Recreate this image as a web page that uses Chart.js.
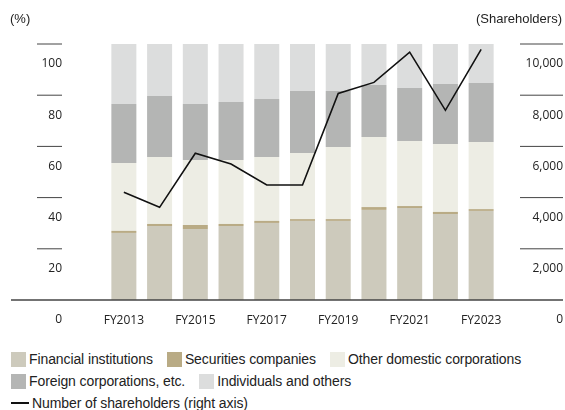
<!DOCTYPE html>
<html>
<head>
<meta charset="utf-8">
<script src="https://cdn.jsdelivr.net/npm/chart.js@4.4.1/dist/chart.umd.min.js"></script>
<style>
  body { margin: 0; background: #fff; }
  #wrap { position: relative; width: 565px; height: 410px; font-family: "Liberation Sans", Arial, sans-serif; color: #222; }
  #chart { position: absolute; left: 0; top: 0; }
  .unit { position: absolute; top: 11px; font-size: 13px; }
  #legend { position: absolute; left: 11px; top: 348px; font-size: 14px; letter-spacing: -0.1px; }
  .row { display: flex; align-items: center; height: 22px; }
  .item { display: flex; align-items: center; margin-right: 14px; }
  .box { width: 15px; height: 15px; margin-right: 3px; }
  .dash { width: 18px; height: 2.5px; background: #111; margin-right: 3px; }
</style>
</head>
<body>
<div id="wrap">
  <canvas id="chart" width="565" height="340"></canvas>
  <div class="unit" style="left:10px">(%)</div>
  <div class="unit" style="right:3px">(Shareholders)</div>
  <div id="legend"></div>
</div>
<script>
const years = ['FY2013', 'FY2014', 'FY2015', 'FY2016', 'FY2017', 'FY2018', 'FY2019', 'FY2020', 'FY2021', 'FY2022', 'FY2023']

// ownership breakdown, % of shares
const financial = [26.2, 28.9, 27.7, 28.9, 30.1, 30.9, 30.9, 35.2, 35.9, 33.6, 34.8]
const securities = [0.8, 0.8, 1.6, 0.8, 0.8, 0.7, 0.7, 1.1, 0.8, 0.8, 0.7]
const otherDomestic = [26.5, 26.2, 25.4, 25.0, 25.0, 25.8, 28.2, 27.4, 25.4, 26.5, 26.2]
const foreign = [23.1, 23.8, 21.9, 22.6, 22.6, 24.2, 21.8, 20.3, 20.7, 23.5, 23.1]
const individuals = [23.4, 20.3, 23.4, 22.7, 21.5, 18.4, 18.4, 16.0, 17.2, 15.6, 15.2]

// number of shareholders (right axis)
const shareholders = [4210, 3620, 5730, 5310, 4490, 4490, 8070, 8500, 9680, 7410, 9790]

const leftTicks = [0, 20, 40, 60, 80, 100]
const rightTicks = [0, 2000, 4000, 6000, 8000, 10000]

const barSeries = [
  { label: 'Financial institutions', data: financial, color: '#cdcabc' },
  { label: 'Securities companies', data: securities, color: '#b9ab85' },
  { label: 'Other domestic corporations', data: otherDomestic, color: '#edede4' },
  { label: 'Foreign corporations, etc.', data: foreign, color: '#b4b5b4' },
  { label: 'Individuals and others', data: individuals, color: '#dcdddd' },
]
const lineLabel = 'Number of shareholders (right axis)'

const tickFont = { family: '"Open Sans", sans-serif', size: 12 }

// short marks beside the tick labels plus the long baseline
const axisMarks = {
  id: 'axisMarks',
  afterDraw(chart) {
    const { ctx, scales } = chart
    const yl = scales.y
    const yr = scales.y1
    ctx.save()
    ctx.strokeStyle = '#444'
    ctx.lineWidth = 1
    yl.ticks.forEach(t => {
      if (t.value === 0) return
      const py = yl.getPixelForValue(t.value)
      ctx.beginPath()
      ctx.moveTo(yl.right - 69, py)
      ctx.lineTo(yl.right - 44, py)
      ctx.stroke()
    })
    yr.ticks.forEach(t => {
      if (t.value === 0) return
      const py = yr.getPixelForValue(t.value)
      ctx.beginPath()
      ctx.moveTo(yr.right - 43, py)
      ctx.lineTo(yr.right, py)
      ctx.stroke()
    })
    const base = yl.getPixelForValue(0)
    ctx.lineWidth = 1.5
    ctx.strokeStyle = '#444'
    ctx.beginPath()
    ctx.moveTo(11, base)
    ctx.lineTo(yr.right, base)
    ctx.stroke()
    ctx.restore()
  }
}

// y axes: fixed width, no extra top/bottom padding from the labels
const fixY = w => s => {
  s.width = w
  s.paddingTop = 0
  s.paddingBottom = 0
}

const datasets = [
  {
    type: 'line',
    label: lineLabel,
    data: shareholders,
    yAxisID: 'y1',
    borderColor: '#111',
    borderWidth: 1.6,
    pointRadius: 0,
    tension: 0,
    order: 0,
  },
  ...barSeries.map(s => ({
    type: 'bar',
    label: s.label,
    data: s.data,
    yAxisID: 'y',
    backgroundColor: s.color,
    borderWidth: 0,
    barPercentage: 0.7,
    categoryPercentage: 1,
    order: 1,
  })),
]

new Chart(document.getElementById('chart'), {
  data: { labels: years, datasets },
  options: {
    responsive: false,
    animation: false,
    layout: { padding: { top: 44, left: 0, right: 2, bottom: 0 } },
    plugins: { legend: { display: false }, tooltip: { enabled: false } },
    scales: {
      x: {
        stacked: true,
        grid: { display: false, drawTicks: false },
        border: { display: false },
        ticks: {
          autoSkip: false,
          maxRotation: 0,
          padding: 13,
          color: '#222',
          font: tickFont,
          callback: (v, i) => (i % 2 === 0 ? years[i] : ''),
        },
        afterFit: s => { s.height = 40 },
      },
      y: {
        position: 'left',
        stacked: true,
        min: 0,
        max: 100,
        afterBuildTicks: s => { s.ticks = leftTicks.map(v => ({ value: v })) },
        grid: { display: false, drawTicks: false },
        border: { display: false },
        ticks: { padding: 44, labelOffset: 20, color: '#222', font: tickFont },
        afterFit: fixY(106),
      },
      y1: {
        position: 'right',
        stacked: false,
        min: 0,
        max: 10000,
        afterBuildTicks: s => { s.ticks = rightTicks.map(v => ({ value: v })) },
        grid: { display: false, drawTicks: false },
        border: { display: false },
        ticks: {
          crossAlign: 'far',
          labelOffset: 20,
          color: '#222',
          font: tickFont,
          callback: v => v.toLocaleString('en-US'),
        },
        afterFit: fixY(64),
      },
    },
  },
  plugins: [axisMarks],
})

// legend rows below the chart
const legend = document.getElementById('legend')
const rows = [barSeries.slice(0, 3), barSeries.slice(3)]
rows.forEach(r => {
  const row = document.createElement('div')
  row.className = 'row'
  r.forEach(s => {
    const item = document.createElement('div')
    item.className = 'item'
    item.innerHTML = `<span class="box" style="background:${s.color}"></span><span>${s.label}</span>`
    row.appendChild(item)
  })
  legend.appendChild(row)
})
const lineRow = document.createElement('div')
lineRow.className = 'row'
lineRow.innerHTML = `<span class="dash"></span><span>${lineLabel}</span>`
legend.appendChild(lineRow)
</script>
</body>
</html>
